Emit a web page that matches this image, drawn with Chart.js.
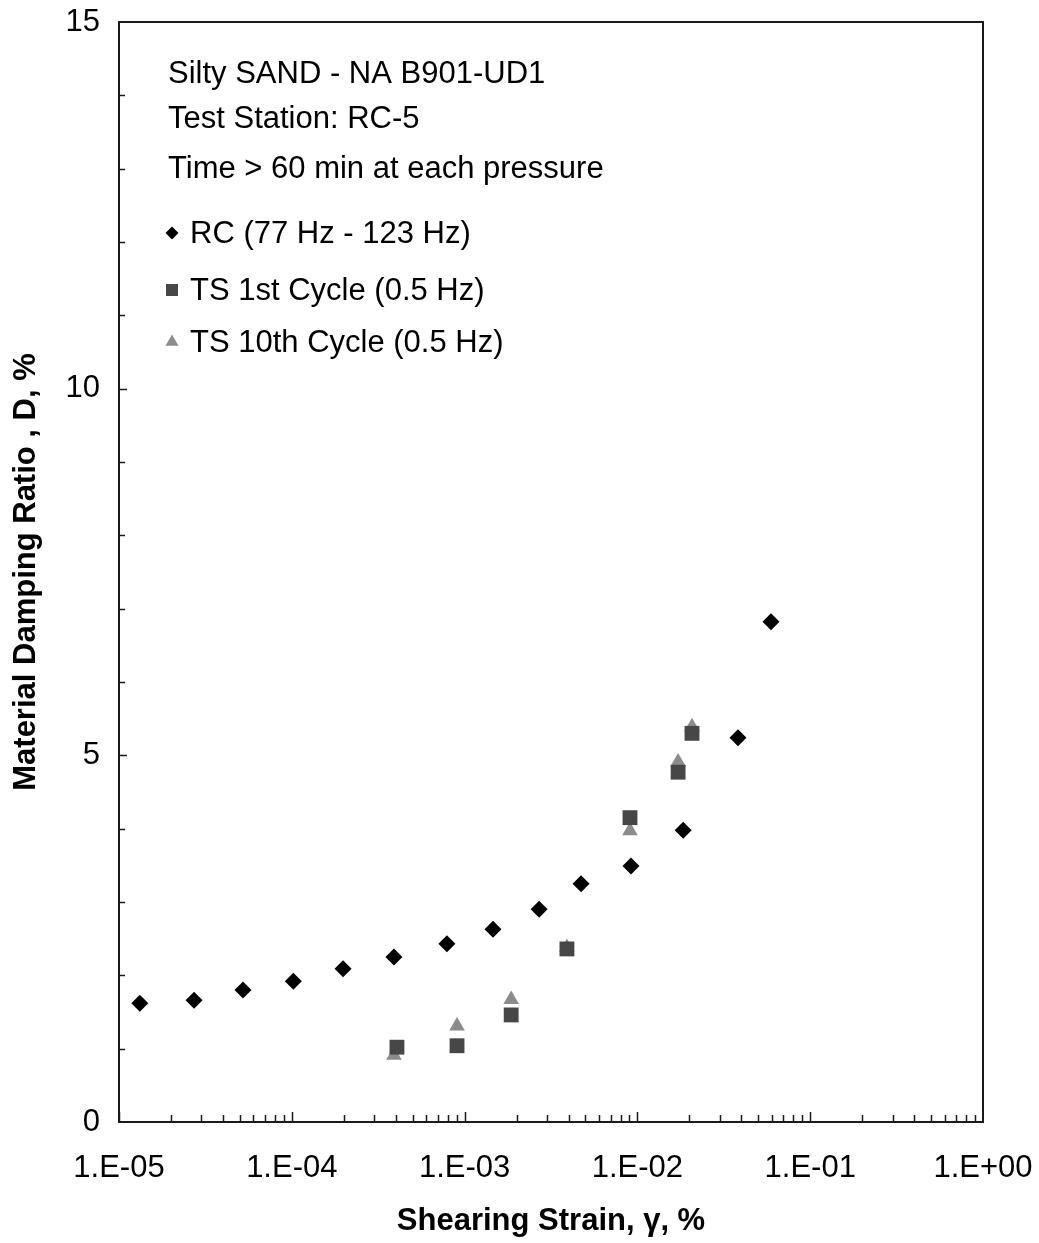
<!DOCTYPE html>
<html>
<head>
<meta charset="utf-8">
<title>Material Damping Ratio vs Shearing Strain</title>
<script src="https://cdn.jsdelivr.net/npm/chart.js@4.4.1/dist/chart.umd.min.js"></script>
<style>
  html, body { margin: 0; padding: 0; background: #fff; }
  #dampingChart { display: block; }
</style>
</head>
<body>
<canvas id="dampingChart" width="1039" height="1243"></canvas>
<script>
// RC test (resonant column)
const rcStrain = [1.32e-5, 2.72e-5, 5.22e-5, 1.02e-4, 1.98e-4, 3.9e-4, 7.9e-4, 1.46e-3, 2.70e-3, 4.72e-3, 9.18e-3, 1.84e-2, 3.82e-2, 5.93e-2];
const rcDamping = [1.62, 1.66, 1.80, 1.92, 2.09, 2.25, 2.43, 2.63, 2.90, 3.25, 3.49, 3.98, 5.24, 6.82];

// TS test, 1st cycle
const ts1Strain = [4.06e-4, 9.04e-4, 1.86e-3, 3.91e-3, 9.06e-3, 1.72e-2, 2.07e-2];
const ts1Damping = [1.02, 1.04, 1.46, 2.36, 4.15, 4.77, 5.30];

// TS test, 10th cycle
const ts10Strain = [3.9e-4, 9.04e-4, 1.86e-3, 3.91e-3, 9.06e-3, 1.72e-2, 2.07e-2];
const ts10Damping = [0.91, 1.31, 1.67, 2.38, 3.97, 4.91, 5.39];

const xDecades = [1e-5, 1e-4, 1e-3, 1e-2, 1e-1, 1];
const yTicks = [0, 5, 10, 15];

const noteLines = ["Silty SAND - NA B901-UD1", "Test Station: RC-5", "Time > 60 min at each pressure"];

const FONT = "'Liberation Sans', Arial, sans-serif";
const TEXT_SIZE = 31;

function toPoints(xs, ys) {
    return xs.map((x, i) => ({ x: x, y: ys[i] }));
}

function sciLabel(v) {
    const e = Math.round(Math.log10(v));
    const sign = e < 0 ? "-" : "+";
    return "1.E" + sign + String(Math.abs(e)).padStart(2, "0");
}

// frame, inward ticks, notes and legend
const framePlugin = {
    id: "frame",
    afterDraw(chart) {
        const ctx = chart.ctx;
        const a = chart.chartArea;
        const xs = chart.scales.x;
        const ys = chart.scales.y;
        ctx.save();
        ctx.strokeStyle = "#1a1a1a";

        ctx.lineWidth = 1.5;
        // y minor ticks every 1
        for (let v = 1; v < 15; v++) {
            const py = Math.round(ys.getPixelForValue(v)) + 0.5;
            const len = v % 5 === 0 ? 8 : 6;
            ctx.beginPath();
            ctx.moveTo(a.left, py);
            ctx.lineTo(a.left + len, py);
            ctx.stroke();
        }
        // x ticks per decade
        for (let d = -5; d < 0; d++) {
            for (let k = 1; k <= 9; k++) {
                const v = k * Math.pow(10, d);
                const px = Math.round(xs.getPixelForValue(v)) + 0.5;
                const len = k === 1 ? 10 : 7;
                ctx.beginPath();
                ctx.moveTo(px, a.bottom);
                ctx.lineTo(px, a.bottom - len);
                ctx.stroke();
            }
        }

        ctx.lineWidth = 2;
        ctx.strokeRect(a.left, a.top, a.right - a.left, a.bottom - a.top);

        // notes
        ctx.fillStyle = "#000";
        ctx.font = TEXT_SIZE + "px " + FONT;
        ctx.textBaseline = "alphabetic";
        ctx.textAlign = "left";
        const noteBase = [61, 106, 156];
        noteLines.forEach((t, i) => {
            ctx.fillText(t, a.left + 49, a.top + noteBase[i]);
        });

        // legend
        const legendBase = [221, 278, 330];
        chart.data.datasets.forEach((ds, i) => {
            const by = a.top + legendBase[i];
            const opts = {
                pointStyle: ds.pointStyle,
                radius: ds.legendRadius,
                rotation: 0,
                borderWidth: 0
            };
            ctx.fillStyle = ds.backgroundColor;
            ctx.strokeStyle = ds.backgroundColor;
            Chart.helpers.drawPoint(ctx, opts, a.left + 53, by - 10);
            ctx.fillStyle = "#000";
            ctx.fillText(ds.label, a.left + 71, by);
        });
        ctx.restore();
    }
};

new Chart(document.getElementById("dampingChart"), {
    type: "scatter",
    data: {
        datasets: [
            {
                label: "RC (77 Hz - 123 Hz)",
                data: toPoints(rcStrain, rcDamping),
                pointStyle: "rectRot",
                pointRadius: 8.5,
                legendRadius: 6.5,
                backgroundColor: "#000",
                borderColor: "#000",
                borderWidth: 0
            },
            {
                label: "TS 1st Cycle (0.5 Hz)",
                data: toPoints(ts1Strain, ts1Damping),
                pointStyle: "rect",
                pointRadius: 10.5,
                legendRadius: 8.5,
                backgroundColor: "#474747",
                borderColor: "#474747",
                borderWidth: 0
            },
            {
                label: "TS 10th Cycle (0.5 Hz)",
                data: toPoints(ts10Strain, ts10Damping),
                pointStyle: "triangle",
                pointRadius: 9,
                legendRadius: 7.5,
                backgroundColor: "#8c8c8c",
                borderColor: "#8c8c8c",
                borderWidth: 0
            }
        ]
    },
    options: {
        responsive: false,
        maintainAspectRatio: false,
        animation: false,
        events: [],
        layout: { padding: { left: 8, right: 56, top: 22, bottom: 3 } },
        plugins: {
            legend: { display: false },
            tooltip: { enabled: false }
        },
        scales: {
            x: {
                type: "logarithmic",
                position: "bottom",
                min: 1e-5,
                max: 1,
                grid: { display: false },
                border: { display: false },
                afterBuildTicks: (scale) => {
                    scale.ticks = xDecades.map(v => ({ value: v, major: true }));
                },
                afterFit: (scale) => {
                    scale.height = 1243 - 1122 - 3;
                    scale.paddingLeft = 0;
                    scale.paddingRight = 0;
                },
                ticks: {
                    autoSkip: false,
                    maxRotation: 0,
                    padding: 20,
                    color: "#000",
                    font: { family: FONT, size: TEXT_SIZE },
                    callback: (v) => sciLabel(v)
                },
                title: {
                    display: true,
                    text: "Shearing Strain, γ, %",
                    color: "#000",
                    padding: { top: 0, bottom: 0 },
                    font: { family: FONT, size: TEXT_SIZE, weight: "bold" }
                }
            },
            y: {
                min: 0,
                max: 15,
                grid: { display: false },
                border: { display: false },
                afterBuildTicks: (scale) => {
                    scale.ticks = yTicks.map(v => ({ value: v }));
                },
                afterFit: (scale) => {
                    scale.width = 119 - 8;
                    scale.paddingTop = 0;
                    scale.paddingBottom = 0;
                },
                ticks: {
                    padding: 11,
                    color: "#000",
                    font: { family: FONT, size: TEXT_SIZE }
                },
                title: {
                    display: true,
                    text: "Material Damping Ratio , D, %",
                    color: "#000",
                    padding: { top: 0, bottom: 0 },
                    font: { family: FONT, size: TEXT_SIZE, weight: "bold" }
                }
            }
        }
    },
    plugins: [framePlugin]
});
</script>
</body>
</html>
